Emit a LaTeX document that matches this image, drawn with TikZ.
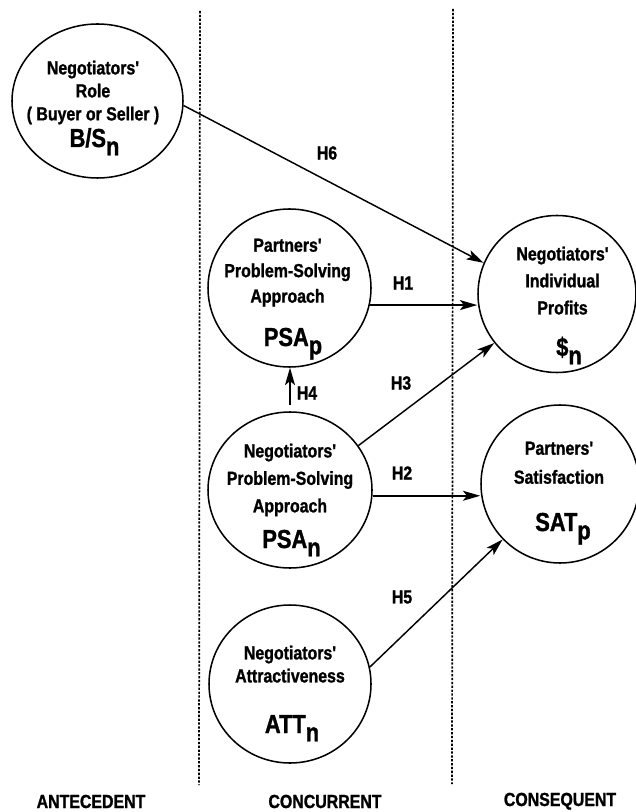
\documentclass[tikz,border=0pt]{standalone}
\usepackage{fontspec}
\usetikzlibrary{shapes.geometric,arrows.meta,calc}
\newfontfamily\hvfont[FakeStretch=0.84,FakeBold=1.2]{Liberation Sans}
\newcommand\tfont[1]{\hvfont\bfseries\fontsize{14.2pt}{#1}\selectfont}
\newcommand\lblfont{\hvfont\bfseries\fontsize{14.2pt}{17pt}\selectfont}
\newcommand\symfont{\hvfont\bfseries\fontsize{19.5pt}{22pt}\selectfont}
\newcommand\lowsub[1]{\raisebox{-0.32em}{#1}}
\tikzset{
  oval/.style={draw, ellipse, line width=1.15pt, inner sep=0pt},
  txt/.style={inner sep=0pt, align=center, anchor=north, font={\tfont{#1}}},
  sym/.style={inner sep=0pt, anchor=base, font=\symfont},
  hyp/.style={inner sep=0pt, font=\lblfont},
  arr/.style={line width=1.1pt, -{Stealth[length=13pt,width=7.5pt,inset=3pt]}},
  divider/.style={line width=1.3pt, dash pattern=on 1.7pt off 1.2pt},
  zone/.style={inner sep=0pt, anchor=base, font=\lblfont}
}
\begin{document}
\begin{tikzpicture}[x=0.75pt,y=-0.75pt]
\useasboundingbox (0,0) rectangle (635,812);

% dividers
\coordinate (d1t) at (200,11);
\coordinate (d1b) at (199,785);
\coordinate (d2t) at (453,9);
\coordinate (d2b) at (452,784);
\draw[divider] (d1t) -- (d1b);
\draw[divider] (d2t) -- (d2b);

% ovals
\node[oval, minimum width=128.25pt, minimum height=115.5pt] (bs) at (97.5,101) {};
\node[oval, minimum width=122.25pt, minimum height=118.5pt] (psap) at (289.5,288) {};
\node[oval, minimum width=118.5pt, minimum height=117.75pt] (prof) at (557,294) {};
\node[oval, minimum width=123pt, minimum height=117pt] (psan) at (290,490) {};
\node[oval, minimum width=118.5pt, minimum height=118.5pt] (sat) at (560,484) {};
\node[oval, minimum width=121.5pt, minimum height=118.5pt] (att) at (290,684) {};

% texts
\node[txt=17.25pt] (bst) at (93,60.4) {Negotiators'\\Role\\( Buyer or Seller )};
\node[sym] (bss) at (94.5,147) {B/S\lowsub{n}};

\node[txt=19.1pt] (psapt) at (287.5,238.4) {Partners'\\Problem-Solving\\Approach};
\node[sym] (psaps) at (293,346) {PSA\lowsub{p}};

\node[txt=20.25pt] (proft) at (562.5,246.4) {Negotiators'\\Individual\\Profits};
\node[sym] (profs) at (569,356) {\$\lowsub{n}};

\node[txt=21.75pt] (satt) at (559,441.4) {Partners'\\Satisfaction};
\node[sym] (sats) at (563,531) {SAT\lowsub{p}};

\node[txt=20.6pt] (psant) at (290,443.4) {Negotiators'\\Problem-Solving\\Approach};
\node[sym] (psans) at (291.5,548) {PSA\lowsub{n}};

\node[txt=17.25pt] (attt) at (290,645.4) {Negotiators'\\Attractiveness};
\node[sym] (atts) at (292,733) {ATT\lowsub{n}};

% connectors
\draw[arr] (bs.-3) -- (prof.157);
\draw[arr] (psap.-12) -- (psap.-12 -| prof.west);
\draw[arr] (psan.33) -- (prof.218);
\draw[arr] (psan.-4) -- (psan.-4 -| sat.west);
\draw[arr] ([yshift=5pt]psan.north) -- (psan.north |- psap.south);
\draw[arr] (att.12) -- (sat.224);

% hypothesis labels
\node[hyp] (h6) at (327,153) {H6};
\node[hyp] (h1) at (403,283) {H1};
\node[hyp] (h3) at (401,383) {H3};
\node[hyp] (h4) at (307,393) {H4};
\node[hyp] (h2) at (402,473) {H2};
\node[hyp] (h5) at (402,597) {H5};

% zone labels
\node[zone] (z1) at (91,808) {ANTECEDENT};
\node[zone] (z2) at (325,808) {CONCURRENT};
\node[zone] (z3) at (560,806) {CONSEQUENT};
\end{tikzpicture}
\end{document}
